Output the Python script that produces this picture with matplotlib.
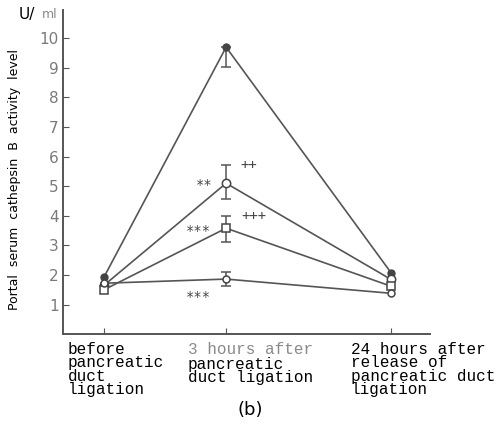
import matplotlib
matplotlib.use('Agg')
import matplotlib.pyplot as plt

# time points (category labels) and their positions along the axis
stage_labels = ['before\npancreatic\nduct\nligation',
                'pancreatic\nduct ligation',
                '24 hours after\nrelease of\npancreatic duct\nligation']
stage_head = '3 hours after'
x_pos = [0, 1, 2.35]

# four groups, values in U/ml
group_a = [1.93, 9.7, 2.08]
group_b = [1.65, 5.1, 1.85]
group_c = [1.5, 3.58, 1.62]
group_d = [1.72, 1.86, 1.38]

# error bars at 3 hours (lower, upper)
err_a = (0.68, 0.0)
err_b = (0.52, 0.6)
err_c = (0.45, 0.42)
err_d = (0.25, 0.25)

line_col = '#555555'
tick_col = '#7a7a7a'

fig = plt.figure(figsize=(5, 4.24), dpi=100)
ax = fig.add_axes([0.126, 0.212, 0.734, 0.764])

ax.plot(x_pos, group_a, color=line_col, lw=1.2, marker='o', ms=5,
        mfc='#444444', mec='#444444')
ax.plot(x_pos, group_b, color=line_col, lw=1.2, marker='o', ms=6,
        mfc='white', mec='#444444', mew=1.1)
ax.plot(x_pos, group_c, color=line_col, lw=1.2, marker='s', ms=5.5,
        mfc='white', mec='#444444', mew=1.1)
ax.plot(x_pos, group_d, color=line_col, lw=1.2, marker='o', ms=5,
        mfc='white', mec='#444444', mew=1.1)

for vals, err in [(group_a, err_a), (group_b, err_b), (group_c, err_c), (group_d, err_d)]:
    ax.errorbar([x_pos[1]], [vals[1]], yerr=[[err[0]], [err[1]]], fmt='none',
                ecolor=line_col, elinewidth=1.1, capsize=3.5, capthick=1.1, zorder=1)

# significance marks
mk = dict(fontsize=10, color='#444444', family='DejaVu Sans Mono')
ax.annotate('**', (x_pos[1], group_b[1]), xytext=(-22, -4), textcoords='offset points', **mk)
ax.annotate('++', (x_pos[1], group_b[1]), xytext=(10, 10), textcoords='offset points', **mk)
ax.annotate('***', (x_pos[1], group_c[1]), xytext=(-29, -5), textcoords='offset points', **mk)
ax.annotate('+++', (x_pos[1], group_c[1]), xytext=(11, 6), textcoords='offset points', **mk)
ax.annotate('***', (x_pos[1], group_d[1]), xytext=(-29, -16), textcoords='offset points', **mk)

ax.set_xlim(-0.336, 2.67)
ax.set_ylim(0, 10.95)
ax.set_yticks(range(1, 11))
ax.set_yticklabels([str(i) for i in range(1, 11)], color=tick_col, fontsize=11,
                   family='DejaVu Sans')
ax.tick_params(axis='y', direction='in', length=4, color=line_col, pad=3)
ax.set_xticks(x_pos)
ax.set_xticklabels([])
ax.tick_params(axis='x', direction='in', length=4, color=line_col)

for side in ['top', 'right']:
    ax.spines[side].set_visible(False)
for side in ['left', 'bottom']:
    ax.spines[side].set_color(line_col)
    ax.spines[side].set_linewidth(1.4)

# category text under the axis, left aligned
label_left = [68, 188, 351]
label_top = [342, 357, 342]
for lbl, xp, yp in zip(stage_labels, label_left, label_top):
    fig.text(xp / 500, 1 - yp / 424, lbl, ha='left', va='top', fontsize=11.5,
             family='Liberation Mono', linespacing=0.87, color='black')
fig.text(188 / 500, 1 - 342 / 424, stage_head, ha='left', va='top', fontsize=11.5,
         family='Liberation Mono', color='#8a8a8a')

fig.text(250 / 500, 1 - 410 / 424, '(b)', ha='center', va='center', fontsize=13,
         family='DejaVu Sans')

fig.text(15 / 500, 1 - 179 / 424, 'Portal  serum  cathepsin  B  activity  level',
         rotation=90, ha='center', va='center', fontsize=9, family='DejaVu Sans')
fig.text(19 / 500, 1 - 15 / 424, 'U/', ha='left', va='center', fontsize=11,
         family='DejaVu Sans')
fig.text(42 / 500, 1 - 15 / 424, 'ml', ha='left', va='center', fontsize=9,
         family='DejaVu Sans', color='#8a8a8a')

fig.savefig('out.png', dpi=100)
